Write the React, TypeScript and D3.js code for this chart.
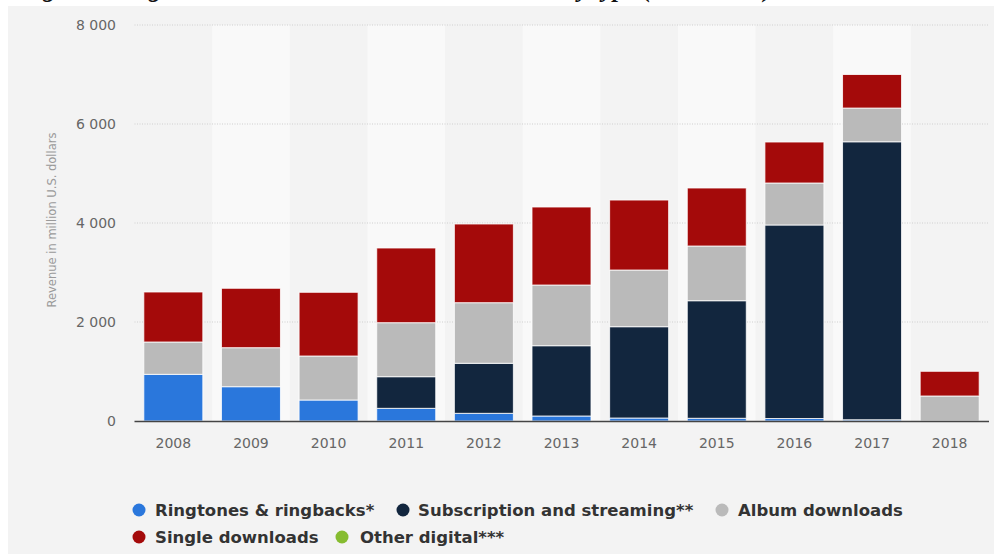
import React from "react";
import * as d3 from "d3";

const years = ["2008", "2009", "2010", "2011", "2012", "2013", "2014", "2015", "2016", "2017", "2018"];
const ringtones = [943, 693, 424, 256, 155, 101, 60, 55, 50, 25, 0];
const subscription = [0, 0, 0, 639, 1011, 1420, 1845, 2375, 3910, 5616, 0];
const albumDownloads = [653, 788, 889, 1091, 1224, 1226, 1145, 1105, 848, 681, 505];
const singleDownloads = [1010, 1200, 1287, 1509, 1590, 1576, 1414, 1172, 828, 678, 499];
const otherDigital = [0, 0, 0, 0, 0, 0, 0, 0, 0, 0, 0];
const yTicks = [0, 2000, 4000, 6000, 8000];

const seriesNames = [
  "Ringtones & ringbacks*",
  "Subscription and streaming**",
  "Album downloads",
  "Single downloads",
  "Other digital***",
];
const seriesColors = ["#2a77dc", "#12263e", "#bababa", "#a40a0a", "#86bc30"];

const W = 994;
const H = 554;

export default function App() {
  const rows = years.map((y, i) => ({
    year: y,
    s0: ringtones[i],
    s1: subscription[i],
    s2: albumDownloads[i],
    s3: singleDownloads[i],
    s4: otherDigital[i],
  }));
  const keys = ["s0", "s1", "s2", "s3", "s4"];
  const stacked = d3.stack<any>().keys(keys)(rows);

  const x = d3.scaleBand<string>().domain(years).range([134.5, 988.5]).paddingInner(0.24).paddingOuter(0.12);
  const xOuter = d3.scaleBand<string>().domain(years).range([134.5, 988.5]);
  const y = d3.scaleLinear().domain([0, 8000]).range([421, 25]);
  const fmt = (v: number) => d3.format(",")(v).replace(/,/g, " ");

  const legendRows = [
    [
      { i: 0, cx: 139, tx: 155 },
      { i: 1, cx: 403, tx: 418 },
      { i: 2, cx: 722, tx: 738 },
    ],
    [
      { i: 3, cx: 139, tx: 155 },
      { i: 4, cx: 342, tx: 360 },
    ],
  ];
  const legendY = [510, 537];

  return (
    <svg
      width={W}
      height={H}
      style={{ position: "absolute", left: 0, top: 0, display: "block" }}
      fontFamily="'DejaVu Sans', sans-serif"
    >
      <rect x={0} y={0} width={W} height={H} fill="#ffffff" />
      <text
        x={20}
        y={-3.5}
        fontFamily="'Liberation Serif', serif"
        fontWeight="bold"
        fontStyle="italic"
        fontSize={25}
        fill="#111"
      >
        Figure 2: Digital music revenue in the United States by type (2008–2018)
      </text>
      <rect x={8} y={6} width={W - 8} height={H - 6} fill="#f3f3f3" />

      {/* alternating column bands */}
      {years.map((yr, i) =>
        i % 2 === 1 ? (
          <rect
            key={"band" + yr}
            x={xOuter(yr)}
            y={y(8000)}
            width={xOuter.bandwidth()}
            height={y(0) - y(8000)}
            fill="#f9f9f9"
          />
        ) : null
      )}

      {/* gridlines */}
      {yTicks
        .filter((t) => t > 0)
        .map((t) => (
          <line
            key={"g" + t}
            x1={134.5}
            x2={989}
            y1={y(t)}
            y2={y(t)}
            stroke="#cfcfcf"
            strokeWidth={1}
            strokeDasharray="1,1.5"
          />
        ))}

      {/* y tick labels */}
      {yTicks.map((t) => (
        <text
          key={"yt" + t}
          x={116}
          y={y(t)}
          textAnchor="end"
          dominantBaseline="central"
          fontSize={14}
          fill="#666"
        >
          {fmt(t)}
        </text>
      ))}

      <text
        transform={`translate(56, 220) rotate(-90)`}
        textAnchor="middle"
        fontSize={11.5}
        fill="#9a9a9a"
      >
        Revenue in million U.S. dollars
      </text>

      {/* bars */}
      {stacked.map((layer, li) => (
        <g key={"layer" + li} fill={seriesColors[li]}>
          {layer.map((d: any, di: number) => {
            const h = y(d[0]) - y(d[1]);
            if (h <= 0) return null;
            return (
              <rect
                key={di}
                x={x(d.data.year)}
                y={y(d[1])}
                width={x.bandwidth()}
                height={h}
                stroke="#ffffff"
                strokeOpacity={0.8}
                strokeWidth={1}
              />
            );
          })}
        </g>
      ))}

      {/* x axis */}
      <line x1={134.5} x2={989} y1={421.5} y2={421.5} stroke="#444" strokeWidth={1.5} />
      {years.map((yr) => (
        <text
          key={"xt" + yr}
          x={(x(yr) as number) + x.bandwidth() / 2}
          y={448}
          textAnchor="middle"
          fontSize={14}
          fill="#666"
        >
          {yr}
        </text>
      ))}

      {/* legend */}
      {legendRows.map((row, ri) =>
        row.map((item) => (
          <g key={"leg" + item.i}>
            <circle cx={item.cx} cy={legendY[ri]} r={6.5} fill={seriesColors[item.i]} />
            <text
              x={item.tx}
              y={legendY[ri] + 0.5}
              dominantBaseline="central"
              fontSize={16.5}
              fontWeight="bold"
              fill="#333"
            >
              {seriesNames[item.i]}
            </text>
          </g>
        ))
      )}
    </svg>
  );
}
